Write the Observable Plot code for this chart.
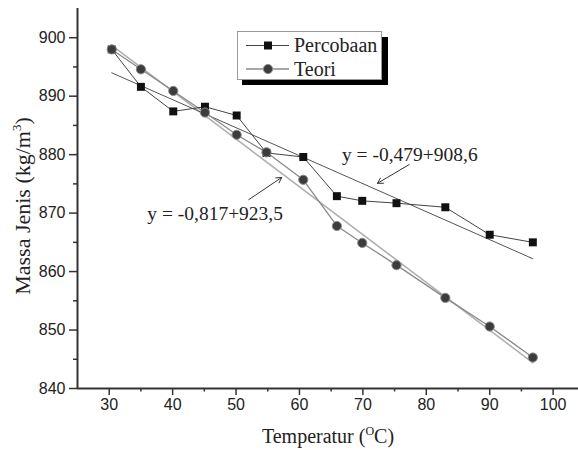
<!DOCTYPE html>
<html>
<head>
<meta charset="utf-8">
<script src="https://cdn.jsdelivr.net/npm/d3@7"></script>
<script src="https://cdn.jsdelivr.net/npm/@observablehq/plot@0.6"></script>
<style>
  html, body { margin: 0; padding: 0; background: #fff; }
  #chart svg { display: block; }
</style>
</head>
<body>
<div id="chart"></div>
<script>
// Temperatures (°C)
const temps = [30.4, 35.0, 40.1, 45.1, 50.1, 54.8, 60.6, 65.9, 69.9, 75.3, 83.0, 90.0, 96.8];
// Massa Jenis (kg/m3) — experimental
const percobaan = [898.0, 891.6, 887.4, 888.2, 886.7, 880.3, 879.6, 872.9, 872.1, 871.7, 871.0, 866.3, 865.0];
// Massa Jenis (kg/m3) — theory
const teori = [898.0, 894.6, 890.9, 887.2, 883.4, 880.4, 875.7, 867.8, 864.9, 861.1, 855.5, 850.6, 845.3];
// Fit line end points
const fitX = [30.4, 96.8];
const fitPercobaanY = [894.0, 862.2];
const fitTeoriY = [898.7, 844.4];
// Annotations
const annoText = ["y = -0,479+908,6", "y = -0,817+923,5"];
const annoX = [66.7, 36.0];
const annoY = [880.0, 869.9];
const arrowX1 = [77.3, 52.0], arrowY1 = [878.3, 872.3];
const arrowX2 = [72.3, 57.2], arrowY2 = [875.1, 876.1];
// Ticks
const xMajor = [30, 40, 50, 60, 70, 80, 90, 100];
const xMinor = [35, 45, 55, 65, 75, 85, 95];
const yMajor = [840, 850, 860, 870, 880, 890, 900];
const yMinor = [845, 855, 865, 875, 885, 895];
const legendLabels = ["Percobaan", "Teori"];

const pts = temps.map((t, i) => ({t, p: percobaan[i], q: teori[i]}));
const fitP = fitX.map((x, i) => ({x, y: fitPercobaanY[i]}));
const fitT = fitX.map((x, i) => ({x, y: fitTeoriY[i]}));
const annos = annoText.map((s, i) => ({s, x: annoX[i], y: annoY[i]}));
const arrows = arrowX1.map((x, i) => ({x1: x, y1: arrowY1[i], x2: arrowX2[i], y2: arrowY2[i]}));

const axisColor = "#333";
const svg = Plot.plot({
  width: 578,
  height: 450,
  marginLeft: 77,
  marginRight: 0,
  marginTop: 8,
  marginBottom: 62,
  style: {fontFamily: "Liberation Sans, Arial, sans-serif", fontSize: "16px", background: "#fff", color: "#222"},
  x: {domain: [25, 104]},
  y: {domain: [840, 905]},
  marks: [
    Plot.axisX({ticks: xMajor, tickSize: 7, tickPadding: 3, fontSize: 16, label: null, stroke: axisColor, strokeWidth: 1.5, fill: "#222"}),
    Plot.axisX({ticks: xMinor, tickSize: 3.5, label: null, stroke: axisColor, strokeWidth: 1.5, fill: "none"}),
    Plot.axisY({ticks: yMajor, tickSize: 8, tickPadding: 4, fontSize: 16, label: null, stroke: axisColor, strokeWidth: 1.5, fill: "#222"}),
    Plot.axisY({ticks: yMinor, tickSize: 4, label: null, stroke: axisColor, strokeWidth: 1.5, fill: "none"}),
    Plot.line(fitT, {x: "x", y: "y", stroke: "#b0b0b0", strokeWidth: 1.6}),
    Plot.line(fitP, {x: "x", y: "y", stroke: "#555", strokeWidth: 1}),
    Plot.line(pts, {x: "t", y: "q", stroke: "#8a8a8a", strokeWidth: 1.3}),
    Plot.line(pts, {x: "t", y: "p", stroke: "#444", strokeWidth: 1}),
    Plot.dot(pts, {x: "t", y: "p", symbol: "square", r: 4.5, fill: "#111", stroke: "none"}),
    Plot.dot(pts, {x: "t", y: "q", symbol: "circle", r: 4.6, fill: "#3c3c3c", stroke: "#8a8a8a", strokeWidth: 1}),
    Plot.arrow(arrows, {x1: "x1", y1: "y1", x2: "x2", y2: "y2", stroke: "#333", strokeWidth: 1, headLength: 9}),
    Plot.text(annos, {x: "x", y: "y", text: "s", textAnchor: "start", fontSize: 19.5, fontFamily: "Liberation Serif, Times New Roman, serif", fill: "#222"}),
    Plot.ruleX([25], {stroke: axisColor, strokeWidth: 2}),
    Plot.ruleY([840], {stroke: axisColor, strokeWidth: 2})
  ]
});

const s = d3.select(svg);
const serif = "Liberation Serif, Times New Roman, serif";
// Y label
const yl = s.append("text")
  .attr("transform", "translate(30,206) rotate(-90)")
  .attr("text-anchor", "middle")
  .attr("font-family", serif).attr("font-size", 22).attr("fill", "#222");
yl.append("tspan").text("Massa Jenis (kg/m");
yl.append("tspan").attr("font-size", 13).attr("dy", -9).text("3");
yl.append("tspan").attr("dy", 9).text(")");
// X label
const xl = s.append("text")
  .attr("x", 328).attr("y", 443)
  .attr("text-anchor", "middle")
  .attr("font-family", serif).attr("font-size", 20).attr("fill", "#222");
xl.append("tspan").text("Temperatur (");
xl.append("tspan").attr("font-size", 12).attr("dy", -8).text("O");
xl.append("tspan").attr("dy", 8).text("C)");
// Legend
const lg = s.append("g").attr("text-anchor", "start");
lg.append("rect").attr("x", 242).attr("y", 37).attr("width", 146).attr("height", 48).attr("fill", "#000");
lg.append("rect").attr("x", 237.5).attr("y", 31.5).attr("width", 144).attr("height", 48).attr("fill", "#fff").attr("stroke", "#999").attr("stroke-width", 1);
const rowY = [45.5, 69];
lg.append("line").attr("x1", 246).attr("x2", 289).attr("y1", rowY[0]).attr("y2", rowY[0]).attr("stroke", "#444");
lg.append("rect").attr("x", 264).attr("y", rowY[0] - 4).attr("width", 8).attr("height", 8).attr("fill", "#111");
lg.append("line").attr("x1", 246).attr("x2", 289).attr("y1", rowY[1]).attr("y2", rowY[1]).attr("stroke", "#8a8a8a").attr("stroke-width", 1.3);
lg.append("circle").attr("cx", 268).attr("cy", rowY[1]).attr("r", 4.6).attr("fill", "#3c3c3c").attr("stroke", "#8a8a8a");
legendLabels.forEach((t, i) => {
  lg.append("text").attr("x", 294).attr("y", rowY[i] + 6.5)
    .attr("text-anchor", "start")
    .attr("font-family", serif).attr("font-size", 20).attr("fill", "#222").text(t);
});

document.getElementById("chart").appendChild(svg);
</script>
</body>
</html>
